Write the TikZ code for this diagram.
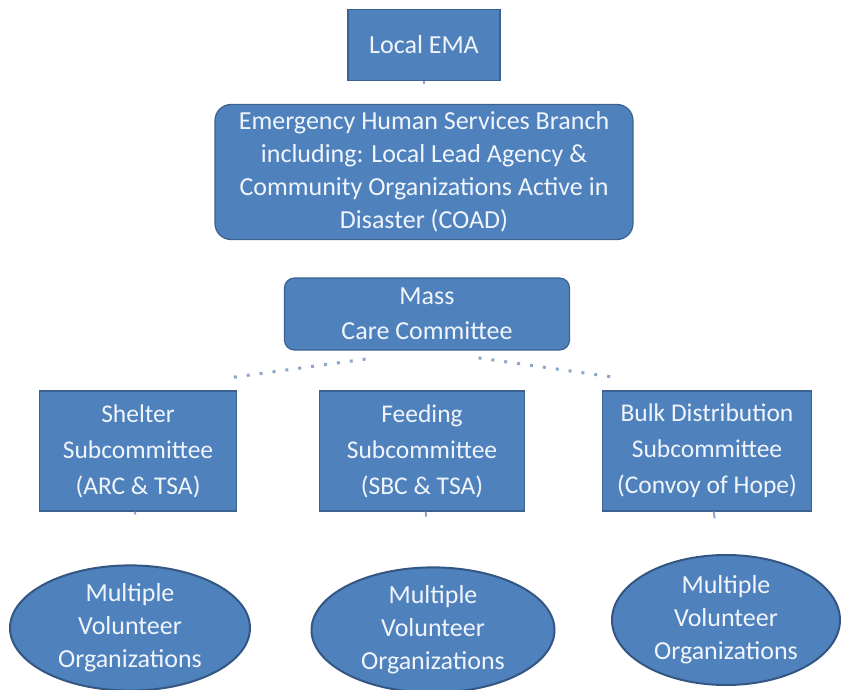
\documentclass[tikz,border=0pt]{standalone}
\usepackage{fontspec}
\setmainfont{Carlito}
\usetikzlibrary{shapes.geometric}

\definecolor{boxblue}{RGB}{79,129,189}
\definecolor{boxedge}{RGB}{60,98,146}
\definecolor{linkblue}{RGB}{140,165,200}

\begin{document}
\begin{tikzpicture}[x=1pt, y=-1pt,
    every node/.style={fill=boxblue, draw=boxedge, line width=1.2pt, text={rgb,255:red,240;green,245;blue,252},
        align=center, inner sep=0pt, font=\fontsize{26}{33}\selectfont},
    box/.style={rectangle},
    rbox/.style={rectangle, rounded corners=16pt},
    oval/.style={ellipse, line width=2pt, draw={rgb,255:red,52;green,86;blue,130}},
    link/.style={linkblue, line width=3pt, dash pattern=on 3pt off 10pt},
    stub/.style={linkblue, line width=2pt}]
    \useasboundingbox (0,0) rectangle (841,690);

    \node[box, minimum width=152pt, minimum height=71pt] (ema) at (424,45) {Local EMA};
    \node[rbox, minimum width=418pt, minimum height=135pt] (ehs) at (424,172)
        {\raisebox{-4pt}{\begin{tabular}{@{}c@{}}Emergency Human Services Branch\\including: Local Lead Agency \&\\Community Organizations Active in\\Disaster (COAD)\end{tabular}}};
    \node[rbox, rounded corners=10pt, minimum width=285pt, minimum height=72pt, font=\fontsize{26}{35}\selectfont] (mass) at (427,314)
        {Mass\\Care Committee};

    \node[box, minimum width=197pt, minimum height=120pt, font=\fontsize{25.5}{36}\selectfont] (shelter) at (138,451)
        {Shelter\\Subcommittee\\(ARC \& TSA)};
    \node[box, minimum width=205pt, minimum height=120pt, font=\fontsize{25.5}{36}\selectfont] (feeding) at (422,451)
        {Feeding\\Subcommittee\\(SBC \& TSA)};
    \node[box, minimum width=209pt, minimum height=120pt, font=\fontsize{25.5}{36}\selectfont] (bulk) at (707,451)
        {Bulk Distribution\\Subcommittee\\(Convoy of Hope)};

    \node[oval, minimum width=240pt, minimum height=125pt] (vol1) at (130,628)
        {Multiple\\Volunteer\\Organizations};
    \node[oval, minimum width=243pt, minimum height=120pt] (vol2) at (433,630)
        {Multiple\\Volunteer\\Organizations};
    \node[oval, minimum width=228pt, minimum height=130pt] (vol3) at (726,620)
        {Multiple\\Volunteer\\Organizations};

    % what is left of the links
    \draw[stub, shorten >=20pt] (ema) -- (ehs);
    \draw[link, shorten <=62pt, shorten >=92pt] (mass.south) -- (shelter.north);
    \draw[link, shorten <=52pt, shorten >=88pt] (mass.south) -- (bulk.north);
    \draw[stub, shorten >=50pt] (shelter) -- (vol1);
    \draw[stub, shorten >=50pt] (feeding) -- (vol2);
    \draw[stub, shorten >=36pt] (bulk) -- (vol3);
\end{tikzpicture}
\end{document}
